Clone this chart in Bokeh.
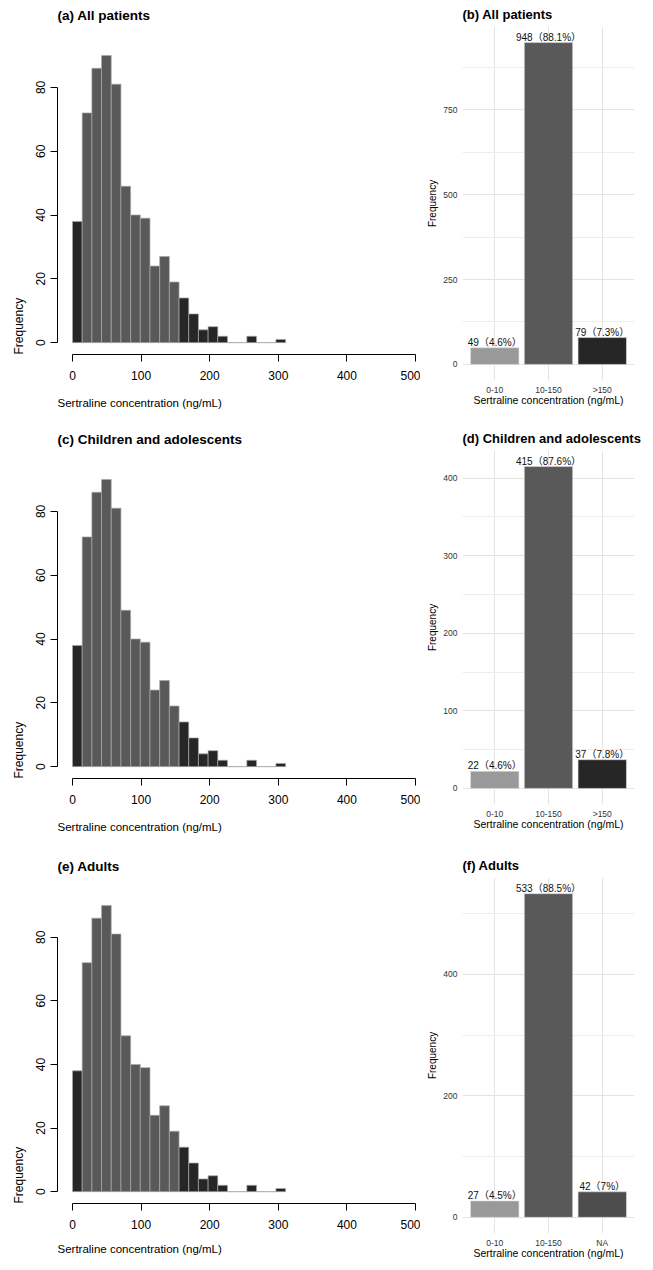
from bokeh.plotting import figure
from bokeh.layouts import column, row
from bokeh.models import FixedTicker, Title, Range1d, FactorRange, ColumnDataSource
from bokeh.core.properties import value
from bokeh.embed import file_html
from bokeh.resources import INLINE

# ---------------- data ----------------
hist_titles = ["(a) All patients", "(c) Children and adolescents", "(e) Adults"]
hist_bin_width = 14.12
hist_counts = [38, 72, 86, 90, 81, 49, 40, 39, 24, 27, 19, 14, 9, 4, 5, 2, 0, 0, 2, 0, 0, 1]
range_cutoffs = [10, 150]
hist_x_ticks = [0, 100, 200, 300, 400, 500]
hist_y_ticks = [0, 20, 40, 60, 80]

bar_titles = ["(b) All patients", "(d) Children and adolescents", "(f) Adults"]
bar_cats = [["0-10", "10-150", ">150"], ["0-10", "10-150", ">150"], ["0-10", "10-150", "NA"]]
bar_counts = [[49, 948, 79], [22, 415, 37], [27, 533, 42]]
bar_pcts = [["4.6%", "88.1%", "7.3%"], ["4.6%", "87.6%", "7.8%"], ["4.5%", "88.5%", "7%"]]
bar_y_ticks = [[0, 250, 500, 750], [0, 100, 200, 300, 400], [0, 200, 400]]
bar_y_minor = [[125, 375, 625, 875], [50, 150, 250, 350], [100, 300, 500]]
bar_colors = [["#999999", "#595959", "#262626"], ["#999999", "#595959", "#262626"],
              ["#999999", "#595959", "#4d4d4d"]]

XLAB = "Sertraline concentration (ng/mL)"
FONT = "Liberation Sans, Noto Sans CJK SC"

# layout per row (pixels): row height, left frame top / bottom border / xlabel standoff,
# right frame top / bottom border
ROW_H = [424, 424, 420]
L_TOP = [26, 26, 30]
L_BOT = [70, 70, 63]
L_XL_STANDOFF = [28, 28, 23]
R_TOP = [25, 25, 29]
R_BOT = [44, 44, 35]


def hist_fig(i):
    h = ROW_H[i]
    frame_h = h - L_TOP[i] - L_BOT[i]
    y_lo = -3.72
    y_hi = y_lo + frame_h / 3.2
    p = figure(width=420, height=h, output_backend="svg", toolbar_location=None,
               x_range=Range1d(-21.87, 500), y_range=Range1d(y_lo, y_hi),
               min_border_left=57, min_border_right=5, min_border_top=L_TOP[i], min_border_bottom=L_BOT[i])
    lefts = [k * hist_bin_width for k in range(len(hist_counts))]
    rights = [l + hist_bin_width for l in lefts]
    cols = ["#262626" if (l < range_cutoffs[0] or l >= range_cutoffs[1]) else "#595959" for l in lefts]
    src = ColumnDataSource(dict(left=lefts, right=rights, top=hist_counts, color=cols))
    p.quad(left="left", right="right", top="top", bottom=0, fill_color="color",
           line_color="#a8a8a8", line_width=0.7, source=src)
    p.outline_line_color = None
    p.xgrid.visible = False
    p.ygrid.visible = False
    for ax, ticks, bnd in ((p.xaxis[0], hist_x_ticks, (0, 500)), (p.yaxis[0], hist_y_ticks, (0, 80))):
        ax.ticker = FixedTicker(ticks=ticks)
        ax.bounds = bnd
        ax.axis_line_color = "black"
        ax.axis_line_width = 1
        ax.major_tick_line_color = "black"
        ax.major_tick_out = 7
        ax.major_tick_in = 0
        ax.minor_tick_line_color = None
        ax.major_label_text_font = FONT
        ax.major_label_text_font_size = "12px"
        ax.major_label_text_color = "black"
    p.xaxis[0].major_label_standoff = 9
    p.yaxis[0].major_label_standoff = 5
    p.yaxis[0].major_label_orientation = "vertical"
    p.title.text = hist_titles[i]
    p.title.align = "left"
    p.title.text_font = FONT
    p.title.text_font_size = "13.5px"
    p.title.text_font_style = "bold"
    p.title.text_color = "black"
    p.title.offset = 0
    p.title.standoff = 10
    xl = Title(text=XLAB, align="left", vertical_align="top", text_font=FONT, text_font_size="11.5px",
               text_font_style="normal", text_color="black", standoff=L_XL_STANDOFF[i])
    p.add_layout(xl, "below")
    yl = Title(text="Frequency", align="left", text_font=FONT, text_font_size="12px",
               text_font_style="normal", text_color="black", standoff=16)
    p.add_layout(yl, "left")
    return p


def bar_fig(i):
    cats = bar_cats[i]
    counts = bar_counts[i]
    m = max(counts)
    labels = [f"{c}（{pct}）" for c, pct in zip(counts, bar_pcts[i])]
    q = figure(width=225, height=ROW_H[i], output_backend="svg", toolbar_location=None,
               x_range=FactorRange(*cats, range_padding=0.1, range_padding_units="absolute"),
               y_range=Range1d(-0.05 * m, 1.05 * m),
               min_border_left=42, min_border_right=11, min_border_top=R_TOP[i], min_border_bottom=R_BOT[i])
    src = ColumnDataSource(dict(x=cats, top=counts, color=bar_colors[i], label=labels))
    q.vbar(x="x", top="top", width=0.9, fill_color="color", line_color="#dddddd", line_width=0.6, source=src)
    q.text(x="x", y="top", text="label", text_align="center", text_baseline="bottom",
           text_font=value(FONT), text_font_size="10px", text_color="#111111", source=src)
    q.outline_line_color = None
    q.yaxis[0].ticker = FixedTicker(ticks=bar_y_ticks[i], minor_ticks=bar_y_minor[i])
    q.ygrid.grid_line_color = "#e4e4e4"
    q.ygrid.minor_grid_line_color = "#ececec"
    q.xgrid.grid_line_color = "#e4e4e4"
    for ax in (q.xaxis[0], q.yaxis[0]):
        ax.axis_line_color = None
        ax.major_tick_line_color = None
        ax.minor_tick_line_color = None
        ax.major_tick_out = 0
        ax.major_tick_in = 0
        ax.minor_tick_out = 0
        ax.major_label_text_font = FONT
        ax.major_label_text_font_size = "8.5px"
        ax.major_label_text_color = "#333333"
        ax.axis_label_text_font = FONT
        ax.axis_label_text_font_style = "normal"
        ax.axis_label_text_color = "black"
    q.yaxis[0].major_label_standoff = 5
    q.xaxis[0].major_label_standoff = 4
    q.xaxis[0].axis_label = XLAB
    q.xaxis[0].axis_label_text_font_size = "10.5px"
    q.xaxis[0].axis_label_standoff = -4
    q.yaxis[0].axis_label = "Frequency"
    q.yaxis[0].axis_label_text_font_size = "10px"
    q.yaxis[0].axis_label_standoff = 2
    q.title.text = bar_titles[i]
    q.title.align = "left"
    q.title.text_font = FONT
    q.title.text_font_size = "13px"
    q.title.text_font_style = "bold"
    q.title.text_color = "black"
    q.title.offset = 0
    q.title.standoff = 9
    return q


left_col = column(*[hist_fig(i) for i in range(3)])
right_col = column(*[bar_fig(i) for i in range(3)])
layout = row(left_col, right_col)
open("out.html", "w").write(file_html(layout, INLINE))
